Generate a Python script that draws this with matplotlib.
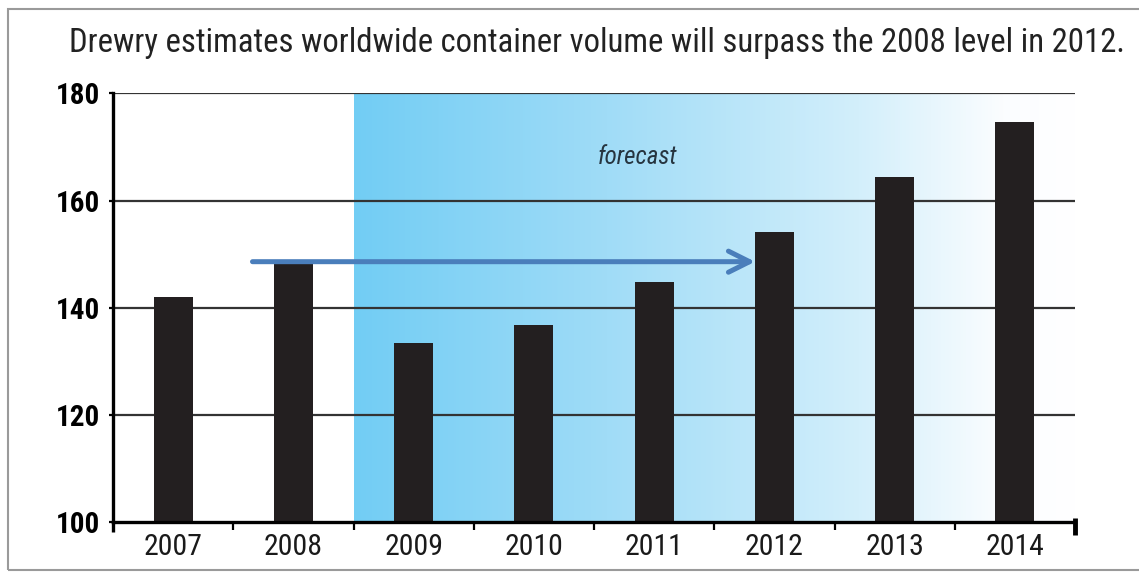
import numpy as np
import matplotlib.pyplot as plt
from matplotlib.patches import Rectangle
from matplotlib.colors import LinearSegmentedColormap
import matplotlib.transforms as mtransforms

plt.rcParams['font.family'] = ['Roboto Condensed', 'Roboto', 'DejaVu Sans']

## data ##
years = ['2007', '2008', '2009', '2010', '2011', '2012', '2013', '2014']
volume = [142, 148.3, 133.5, 136.8, 144.9, 154.1, 164.3, 174.7]
yticks = [100, 120, 140, 160, 180]
title = 'Drewry estimates worldwide container volume will surpass the 2008 level in 2012.'
forecast_from = '2009'
level_2008 = 148.6

fig = plt.figure(figsize=(11.39, 5.73), dpi=100)
ax = fig.add_axes([113/1139, 1-522.3/573, (1075-113)/1139, (522.3-93.3)/573])

x = np.arange(len(years))
i0 = years.index(forecast_from)

# forecast gradient background
grad = np.linspace(0, 1, 256).reshape(1, -1)
cmap = LinearSegmentedColormap.from_list(
    'fc', [(0, '#72cdf4'), (0.35, '#a0dcf7'), (0.7, '#d3effb'), (0.9, '#fbfdff'), (1, '#ffffff')])
ax.imshow(grad, cmap=cmap, aspect='auto', extent=(i0-0.5, 7.5, 100, 180), zorder=0)

# grid lines
for v in yticks[1:]:
    ax.axhline(v, color='#333333', lw=1.6, zorder=1)

ax.bar(x, volume, width=0.325, color='#231f20', zorder=3)

# arrow from 2008 level to 2012
ax.annotate('', xy=(4.84, level_2008), xytext=(0.66, level_2008),
            arrowprops=dict(arrowstyle='->', color='#4a7ebb', lw=3.6,
                            mutation_scale=38, shrinkA=0, shrinkB=0), zorder=4)

ax.text(3.86, 168.1, 'forecast', style='italic', fontsize=18, color='#263540',
        ha='center', va='center', zorder=4)

ax.set_xlim(-0.5, 7.5)
ax.set_ylim(100, 180)
for s in ['top', 'right']:
    ax.spines[s].set_visible(False)
ax.spines['left'].set_linewidth(2.4)
ax.spines['bottom'].set_linewidth(2.4)
ax.spines['left'].set_zorder(5)
ax.spines['bottom'].set_zorder(5)

ax.set_xticks(x)
ax.set_xticklabels(years, fontsize=21.5, color='#1a1a1a')
ax.set_xticks(np.arange(0.5, 7, 1), minor=True)
ax.tick_params(axis='x', which='major', length=0, pad=8)
ax.tick_params(axis='x', which='minor', length=6, width=1.6, direction='out')
ax.set_yticks(yticks)
ax.set_yticklabels([str(v) for v in yticks], fontsize=21, fontweight='bold')
ax.tick_params(axis='y', length=3, width=1.6, pad=6)

# end marks on the axis
trans = mtransforms.blended_transform_factory(ax.transData, ax.transAxes)
ax.plot([7.5, 7.5], [0.01, -0.03], transform=trans, color='black', lw=3.5,
        clip_on=False, solid_capstyle='butt')
ax.plot([-0.5, -0.5], [0, -0.022], transform=trans, color='black', lw=2.4,
        clip_on=False, solid_capstyle='butt')

fig.text(596.5/1139, 1-52/573, title, fontsize=23.6, color='#222222',
         ha='center', va='baseline')

# border of the slide picture
fig.add_artist(Rectangle((8/1139, 1-570/573), 1.2, (570-9)/573, transform=fig.transFigure,
                         fill=False, edgecolor='#9a9a9a', lw=1.5))

fig.savefig('out.png', dpi=100)
